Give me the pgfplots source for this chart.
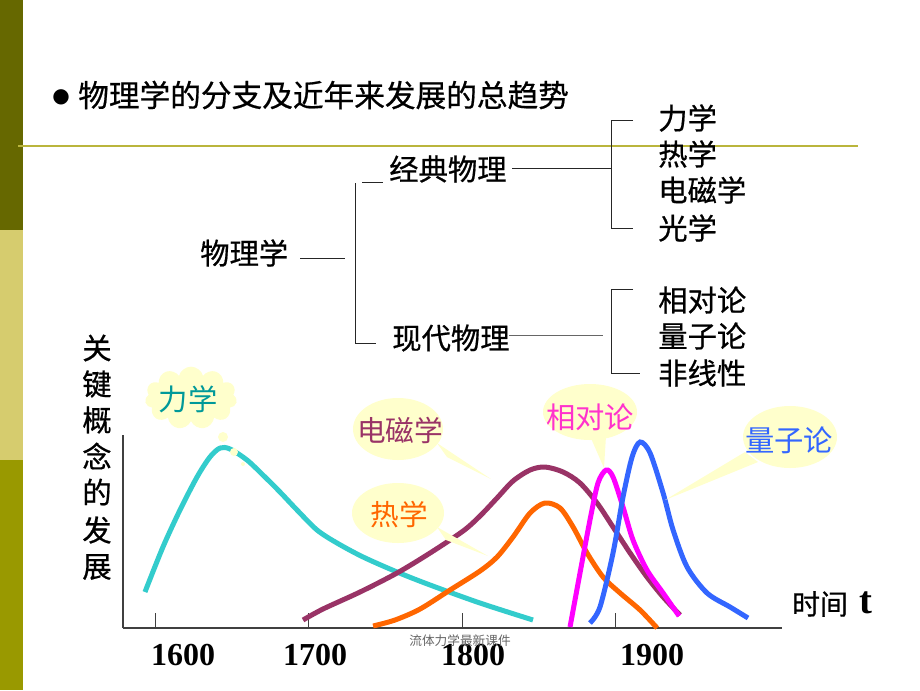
\documentclass[border=0pt]{standalone}
\usepackage{pgfplots}
\pgfplotsset{compat=1.18}
\usepackage{fontspec}
\setmainfont{Liberation Serif}
\newfontfamily\cjk{Noto Sans CJK SC}
\newfontfamily\cjkb[FakeBold=0.6]{Noto Sans CJK SC}
\newfontfamily\dejavu{DejaVu Sans}
\usetikzlibrary{shapes.symbols}
\definecolor{cyanc}{RGB}{51,204,204}
\definecolor{purp}{RGB}{153,51,102}
\definecolor{oran}{RGB}{255,102,0}
\definecolor{mag}{RGB}{255,0,255}
\definecolor{blu}{RGB}{51,102,255}
\definecolor{ly}{RGB}{255,255,204}
\definecolor{tealt}{RGB}{0,153,153}
\definecolor{magt}{RGB}{255,51,204}
\definecolor{stripA}{RGB}{102,104,0}
\definecolor{stripB}{RGB}{214,204,110}
\definecolor{stripC}{RGB}{153,153,0}
\definecolor{oliveline}{RGB}{186,181,60}
\begin{document}
\begin{tikzpicture}
\begin{scope}[x=0.75pt,y=-0.75pt]
\fill[white] (0,0) rectangle (920,690);
\fill[stripA] (0,0) rectangle (23,230);
\fill[stripB] (0,230) rectangle (23,460);
\fill[stripC] (0,460) rectangle (23,690);
\draw[oliveline, line width=1.5pt] (18,146) -- (858,146);
% title
\node[inner sep=0] at (61,97) {\dejavu\fontsize{15}{18}\selectfont ●};
\node[inner sep=0, anchor=west] at (78,95) {\cjkb\fontsize{23}{26}\selectfont 物理学的分支及近年来发展的总趋势};
% tree
\begin{scope}[every node/.style={inner sep=0}, font=\cjkb\fontsize{22}{26}\selectfont]
\node[anchor=west] at (389,169) {经典物理};
\node[anchor=west] at (200,253) {物理学};
\node[anchor=west] at (392,338) {现代物理};
\node[anchor=west] at (658,118) {力学};
\node[anchor=west] at (658,154) {热学};
\node[anchor=west] at (658,190) {电磁学};
\node[anchor=west] at (658,228) {光学};
\node[anchor=west] at (658,300) {相对论};
\node[anchor=west] at (658,336) {量子论};
\node[anchor=west] at (658,373) {非线性};
\foreach \c/\yy in {关/348,键/384,概/420,念/456,的/492,发/530,展/567}
  \node at (97,\yy) {\c};
\end{scope}
\begin{scope}[black!85, line width=0.75pt]
\draw (300,258) -- (345,258);
\draw (355,183) -- (355,343) -- (376,343);
\draw (362,182) -- (383,182);
\draw (512,168) -- (611,168);
\draw (633,120) -- (611,120) -- (611,228) -- (633,228);
\draw[black!60] (509,335) -- (603,335);
\draw (633,289) -- (611,289) -- (611,373) -- (640,373);
\end{scope}
\end{scope}
\begin{axis}[
  at={(92.25pt,-471pt)}, anchor=south west,
  scale only axis, width=494.25pt, height=144.75pt,
  xmin=1579.1, xmax=2008.1, ymin=0, ymax=193,
  axis x line=bottom, axis y line=left,
  axis line style={-, line width=0.8pt, draw=black!75},
  xtick={1600,1700,1800,1900}, xticklabels={},
  ytick=\empty,
  tick align=inside, major tick length=11pt,
  every tick/.style={black!75, line width=0.8pt},
  clip=false,
]
\addplot[smooth, cyanc, line width=3.75pt] coordinates {
(1593.4,36)(1605.1,81)(1616.2,118)(1627.3,151)(1635.7,171)(1642.3,180)(1648.8,179)
(1659.8,168)(1670.2,153)(1681.3,136)(1692.4,118)(1705.4,98)(1718.4,85)(1735.4,71)
(1757.5,56)(1779.0,43)(1811.5,25)(1846.0,8)};
\addplot[smooth, purp, line width=3.75pt] coordinates {
(1696.3,8)(1709.3,19)(1733.4,36)(1757.5,55)(1779.0,75)(1800.5,97)(1811.5,112)
(1822.6,130)(1833.0,147)(1844.1,158)(1853.8,161)(1865.6,156)(1876.6,145)(1887.7,125)
(1898.1,101)(1909.2,75)(1920.2,51)(1930.7,31)(1941.7,13)};
\addplot[smooth, oran, line width=3.75pt] coordinates {
(1741.9,2)(1756.2,8)(1772.5,19)(1792.0,38)(1811.5,57)(1822.6,71)(1833.0,91)
(1844.1,115)(1853.8,125)(1863.6,120)(1872.1,101)(1881.2,75)(1891.6,51)(1902.7,35)
(1915.7,18)(1926.8,0)};
\addplot[smooth, mag, line width=3.75pt] coordinates {
(1870.1,1)(1876.6,55)(1883.1,108)(1888.3,145)(1893.6,158)(1898.1,151)(1904.6,121)
(1911.1,88)(1920.2,58)(1930.7,35)(1941.1,12)};
\addplot[smooth, blu, line width=3.75pt] coordinates {
(1883.1,5)(1889.6,21)(1898.1,75)(1904.6,131)(1910.5,171)(1915.7,186)(1922.2,175)
(1930.7,135)(1937.2,98)(1946.3,61)(1959.3,35)(1974.3,21)(1986.0,10)};
\end{axis}
\begin{scope}[x=0.75pt,y=-0.75pt]
% callouts
\node[cloud, cloud puffs=11, aspect=1.5, fill=ly, draw=none, minimum width=69pt, minimum height=47pt] at (191,398) {};
\fill[ly] (223,437) circle (5);
\fill[ly] (234,452) circle (4);
\fill[ly] (243,464) circle (2);
\node[inner sep=0, text=tealt] at (188,399) {\cjk\fontsize{22}{26}\selectfont 力学};
\fill[ly] (437,443) -- (491,479) -- (447,457) -- cycle;
\fill[ly] (398,429) ellipse [x radius=45, y radius=31];
\node[inner sep=0, text=purp] at (400,430) {\cjk\fontsize{21.5}{26}\selectfont 电磁学};
\fill[ly] (437,527) -- (488,556) -- (446,540) -- cycle;
\fill[ly] (398,513) ellipse [x radius=46, y radius=30];
\node[inner sep=0, text=oran] at (399,515) {\cjk\fontsize{21.5}{26}\selectfont 热学};
\fill[ly] (590,436) -- (604,468) -- (606,436) -- cycle;
\fill[ly] (590,412) ellipse [x radius=47, y radius=28];
\node[inner sep=0, text=magt] at (590,417) {\cjk\fontsize{22}{26}\selectfont 相对论};
\fill[ly] (745,452) -- (665,500) -- (758,462) -- cycle;
\fill[ly] (790,437) ellipse [x radius=47, y radius=31];
\node[inner sep=0, text=blu] at (789,440) {\cjk\fontsize{22}{26}\selectfont 量子论};
% axis texts
\node[inner sep=0] at (820,604) {\cjkb\fontsize{21}{24}\selectfont 时间};
\node[inner sep=0, anchor=base west] at (859,613) {\fontsize{29}{32}\selectfont\bfseries t};
\foreach \lab/\xx in {1600/183,1700/315,1800/473,1900/652}
  \node[inner sep=0] at (\xx,655) {\fontsize{24}{28}\selectfont\bfseries \lab};
\node[inner sep=0, text=black!60] at (460,641) {\cjk\fontsize{9.5}{11}\selectfont 流体力学最新课件};
\end{scope}
\end{tikzpicture}
\end{document}
